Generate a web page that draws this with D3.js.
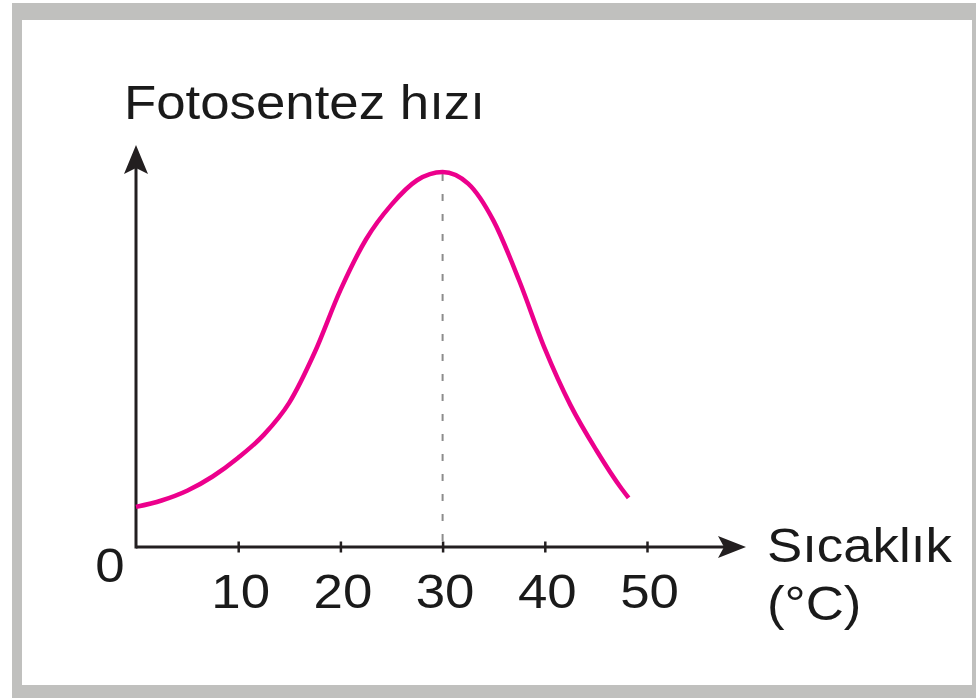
<!DOCTYPE html>
<html>
<head>
<meta charset="utf-8">
<script src="https://cdn.jsdelivr.net/npm/d3@7"></script>
<style>
  body{margin:0;background:#fff}
  text{font-family:"Liberation Sans",Arial,Helvetica,sans-serif;fill:#1a1a1a}
</style>
</head>
<body>
<svg id="chart" width="976" height="698"></svg>
<script>
// temperature (°C) and relative photosynthesis rate
let temps=[0,2.5,5,7.5,10,12.5,15,17.5,20,22.5,25,27.5,30,32.5,35,37.5,40,42.5,45,47.5,48.2]
let rates=[10.7,12.4,15.0,18.8,23.8,29.9,38.5,52.0,68.5,82.0,91.3,97.8,100,96.9,86.9,71.0,52.9,37.9,26.0,15.6,13.1]
let xTicks=[10,20,30,40,50]
let peakTemp=30

let yLabel="Fotosentez hızı"
let xLabel1="Sıcaklık"
let xLabel2="(°C)"

const svg=d3.select("#chart")
const ink="#231f20"
const stretch=1.1 //the original lettering is a bit wider than Liberation Sans

// grey frame
svg.append("rect").attr("x",12).attr("y",3).attr("width",964).attr("height",695).attr("fill","#c0c0be")
svg.append("rect").attr("x",22).attr("y",20).attr("width",950).attr("height",665).attr("fill","#fff")

const x=d3.scaleLinear().domain([0,50]).range([136,647])
const y=d3.scaleLinear().domain([0,100]).range([547,172])

const x0=x(0), y0=y(0)
const xEnd=746, yTop=145

//axis lines
svg.append("line").attr("x1",x0).attr("y1",y0).attr("x2",xEnd-10).attr("y2",y0).attr("stroke",ink).attr("stroke-width",3)
svg.append("line").attr("x1",x0).attr("y1",y0+1.5).attr("x2",x0).attr("y2",yTop+10).attr("stroke",ink).attr("stroke-width",3)

// arrow heads (notched)
svg.append("path").attr("d",`M${x0},${yTop} L${x0+12},${yTop+29} L${x0},${yTop+23} L${x0-12},${yTop+29} Z`).attr("fill",ink)
svg.append("path").attr("d",`M${xEnd},${y0} L${xEnd-28},${y0-11} L${xEnd-22},${y0} L${xEnd-28},${y0+11} Z`).attr("fill",ink)

// ticks via d3 axis
const xAxis=d3.axisBottom(x).tickValues(xTicks).tickSize(11).tickFormat(d3.format("d"))
const gx=svg.append("g").attr("transform",`translate(0,${y0-5.5})`).call(xAxis)
gx.select(".domain").remove()
gx.selectAll(".tick line").attr("stroke",ink).attr("stroke-width",2.5)
gx.selectAll(".tick text").attr("y",null).attr("dy",null).attr("transform",`translate(2,66) scale(${stretch},1)`)
  .style("font-size","48px").style("fill","#1a1a1a").style("font-family","'Liberation Sans',Arial,sans-serif")

function label(txt,px,py,anchor){
  svg.append("text").attr("transform",`translate(${px},${py}) scale(${stretch},1)`)
    .attr("text-anchor",anchor||"start").style("font-size","48px").text(txt)
}
label("0",110,582,"middle")

// dashed peak marker
svg.append("line").attr("x1",x(peakTemp)).attr("x2",x(peakTemp)).attr("y1",y(100)+2).attr("y2",y0)
  .attr("stroke","#8c8c8c").attr("stroke-width",2).attr("stroke-dasharray","7,13")

// curve
const line=d3.line().x((d,i)=>x(temps[i])).y(d=>y(d)).curve(d3.curveMonotoneX)
svg.append("path").datum(rates).attr("d",line).attr("fill","none").attr("stroke","#ec008c").attr("stroke-width",4.5)

// labels
label(yLabel,124,119)
label(xLabel1,767,562)
label(xLabel2,767,620)
</script>
</body>
</html>
